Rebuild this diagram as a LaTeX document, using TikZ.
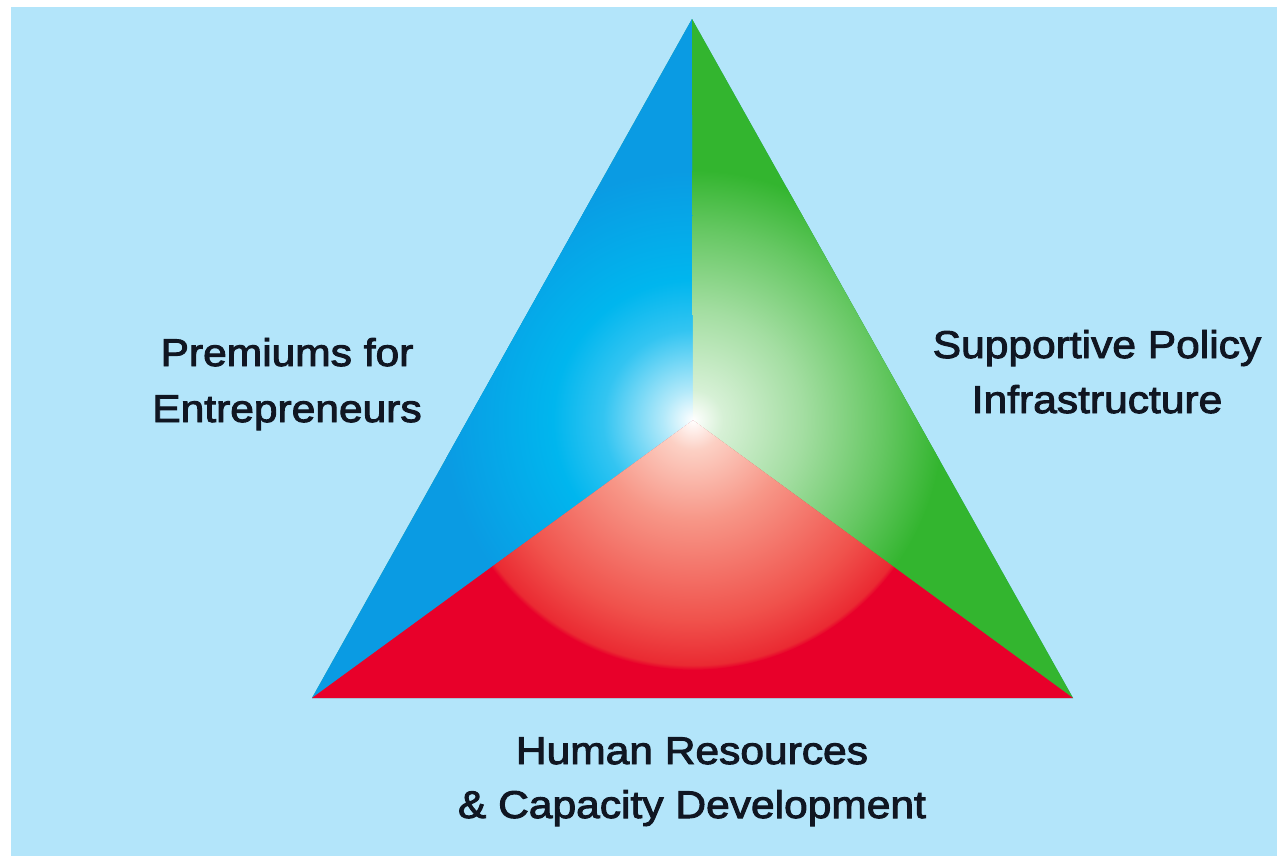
\documentclass[tikz,border=0pt]{standalone}
\usepackage{fontspec}
\setmainfont[FakeStretch=1.1,FakeBold=2.5]{Liberation Sans}
\definecolor{skybg}{RGB}{179,229,250}
\definecolor{inkdark}{RGB}{16,22,34}
\definecolor{blueout}{RGB}{10,155,227}
\definecolor{bluemid}{RGB}{0,182,238}
\definecolor{greenout}{RGB}{51,181,47}
\definecolor{redout}{RGB}{232,0,42}
\definecolor{redA}{RGB}{252,208,196}
\definecolor{redB}{RGB}{247,150,135}
\definecolor{redC}{RGB}{240,82,76}
\definecolor{redD}{RGB}{234,42,50}
\pgfdeclareradialshading{glowblue}{\pgfpoint{0bp}{0bp}}{color(0bp)=(white); color(3bp)=(bluemid!30!white); color(9bp)=(bluemid!80!white); color(14bp)=(bluemid); color(25bp)=(blueout); color(50bp)=(blueout)}
\pgfdeclareradialshading{glowgreen}{\pgfpoint{0bp}{0bp}}{color(0bp)=(white); color(3bp)=(greenout!20!white); color(11bp)=(greenout!45!white); color(19bp)=(greenout!75!white); color(25bp)=(greenout); color(50bp)=(greenout)}
\pgfdeclareradialshading{glowred}{\pgfpoint{0bp}{0bp}}{color(0bp)=(white); color(3bp)=(redA); color(10bp)=(redB); color(20bp)=(redC); color(24.5bp)=(redD); color(25bp)=(redout); color(50bp)=(redout)}

\begin{document}
\begin{tikzpicture}[x=0.02cm,y=-0.02cm,
  lbl/.style={font=\fontsize{22}{22}\selectfont,text=inkdark,anchor=base,inner sep=0pt}]
\path[fill=white] (0,0) rectangle (1277,856);
\fill[skybg] (11,7) rectangle (1277,856);
\coordinate (apex) at (692,19);
\coordinate (lcorner) at (312,698);
\coordinate (rcorner) at (1073,698);
\coordinate (hub) at (693,420);
\fill[greenout!50!blueout] (apex) -- (rcorner) -- (lcorner) -- cycle;
\fill[blueout] (apex) -- (hub) -- (lcorner) -- cycle;
\fill[greenout] (apex) -- (rcorner) -- (hub) -- cycle;
\fill[redout] (lcorner) -- (hub) -- (rcorner) -- cycle;
\begin{scope}
\clip (apex) -- (hub) -- (lcorner) -- cycle;
\shade[shading=glowblue] (hub) circle (5cm);
\end{scope}
\begin{scope}
\clip (apex) -- (rcorner) -- (hub) -- cycle;
\shade[shading=glowgreen] (hub) circle (5cm);
\end{scope}
\begin{scope}
\clip (lcorner) -- (hub) -- (rcorner) -- cycle;
\shade[shading=glowred] (hub) circle (5cm);
\end{scope}
\node[lbl] (premA) at (287,366) {Premiums for};
\node[lbl] (premB) at (287,422) {Entrepreneurs};
\node[lbl] (polA) at (1097,358) {Supportive Policy};
\node[lbl] (polB) at (1097,413) {Infrastructure};
\node[lbl] (hrA) at (692,764) {Human Resources};
\node[lbl] (hrB) at (692,818) {\& Capacity Development};
\end{tikzpicture}
\end{document}
